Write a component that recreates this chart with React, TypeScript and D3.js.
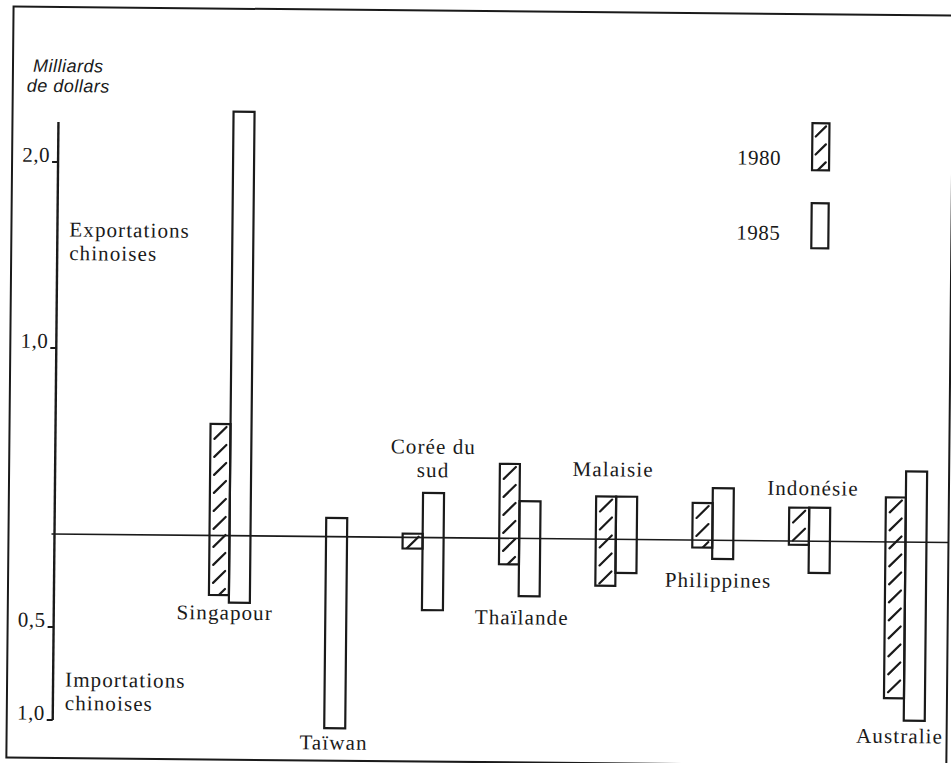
import React from 'react';
import * as d3 from 'd3';

// ---------- data (milliards de dollars) ----------
const countries = ['Singapour', 'Taïwan', 'Corée du sud', 'Thaïlande', 'Malaisie', 'Philippines', 'Indonésie', 'Australie'];
const exports1980: (number | null)[] = [0.60, null, 0.02, 0.40, 0.23, 0.20, 0.18, 0.24];
const imports1980: (number | null)[] = [0.32, null, 0.06, 0.14, 0.25, 0.04, 0.02, 0.84];
const exports1985 = [2.28, 0.10, 0.24, 0.20, 0.23, 0.28, 0.18, 0.38];
const imports1985 = [0.36, 1.03, 0.39, 0.31, 0.18, 0.10, 0.17, 0.96];
const years = ['1980', '1985'];
const upperTicks = [2, 1];
const lowerTicks = [0.5, 1];
const countryLabelLines = [['Singapour'], ['Taïwan'], ['Corée du', 'sud'], ['Thaïlande'], ['Malaisie'], ['Philippines'], ['Indonésie'], ['Australie']];
const unitTitle = ['Milliards', 'de dollars'];
const upperTitle = ['Exportations', 'chinoises'];
const lowerTitle = ['Importations', 'chinoises'];

// ---------- layout ----------
const W = 951;
const H = 763;
const Y0 = 538;
const K = 186;
const AXIS_X = 56;
const INK = '#1a1a1a';
const SERIF = '"Liberation Serif", "Times New Roman", serif';
const SANS = '"Liberation Sans", Arial, sans-serif';
const FS = 21;
const LS = 1.1;
const LINE = 23.5;
// label placement (center x, baseline y of first line) in chart coordinates
const labelLayout = [
  { x: 227, y: 622 },
  { x: 337, y: 751 },
  { x: 434, y: 454 },
  { x: 524, y: 624 },
  { x: 614, y: 475 },
  { x: 720, y: 585 },
  { x: 814, y: 492 },
  { x: 903, y: 739 },
];

function hatch(x0: number, x1: number, top: number, bottom: number) {
  const w = x1 - x0;
  const inset = Math.max(3, w * 0.2);
  const span = w - 2 * inset;
  const segs: { x1: number; y1: number; x2: number; y2: number }[] = [];
  for (let yk = top + 3; yk < bottom; yk += 18) {
    segs.push({ x1: x0 + inset, y1: yk + span, x2: x1 - inset, y2: yk });
  }
  return segs;
}

export default function App() {
  const y = d3.scaleLinear().domain([-1, 2]).range([Y0 + K, Y0 - 2 * K]);
  const x = d3.scalePoint<string>().domain(countries).range([231, 907]);
  const fmt = (v: number) => d3.format('.1f')(v).replace('.', ',');

  type Bar = { key: string; year: string; x0: number; x1: number; top: number; bottom: number };
  const bars: Bar[] = [];
  countries.forEach((c, i) => {
    const cx = x(c) as number;
    const e80 = exports1980[i];
    const i80 = imports1980[i];
    if (e80 != null && i80 != null) {
      bars.push({ key: `${i}-80`, year: years[0], x0: cx - 20, x1: cx, top: y(e80), bottom: y(-i80) });
    }
    bars.push({ key: `${i}-85`, year: years[1], x0: cx, x1: cx + 21, top: y(exports1985[i]), bottom: y(-imports1985[i]) });
  });

  const legend = [
    { year: years[0], box: { x0: 810, x1: 827, top: 120, bottom: 167 }, tx: 757, ty: 162 },
    { year: years[1], box: { x0: 810, x1: 827, top: 200, bottom: 245 }, tx: 757, ty: 237 },
  ];

  const renderBox = (k: string, b: { x0: number; x1: number; top: number; bottom: number }, hatched: boolean) => (
    <g key={k}>
      {hatched && (
        <>
          <clipPath id={`clip-${k}`}>
            <rect x={b.x0} y={b.top} width={b.x1 - b.x0} height={b.bottom - b.top} />
          </clipPath>
          <g clipPath={`url(#clip-${k})`}>
            {hatch(b.x0, b.x1, b.top, b.bottom).map((s, j) => (
              <line key={j} x1={s.x1} y1={s.y1} x2={s.x2} y2={s.y2} stroke={INK} strokeWidth={2.2} strokeLinecap="round" />
            ))}
          </g>
        </>
      )}
      <rect x={b.x0} y={b.top} width={b.x1 - b.x0} height={b.bottom - b.top} fill="none" stroke={INK} strokeWidth={2.2} />
    </g>
  );

  return (
    <svg width={W} height={H} style={{ position: 'absolute', left: 0, top: 0, display: 'block', background: '#fff' }}>
      <rect x={0} y={0} width={W} height={H} fill="#fff" />
      <g transform="rotate(0.55 475 380)">
        {/* frame */}
        <rect x={10} y={11} width={940} height={751} fill="none" stroke={INK} strokeWidth={2} />

        {/* unit title */}
        {unitTitle.map((t, i) => (
          <text key={t} x={i === 0 ? 30 : 24} y={76 + i * 20} fontFamily={SANS} fontStyle="italic" fontSize={18} letterSpacing={0.5} fill={INK}>{t}</text>
        ))}

        {/* axis */}
        <line x1={AXIS_X} x2={AXIS_X} y1={y(2.215)} y2={y(-1)} stroke={INK} strokeWidth={2.4} />
        {upperTicks.map(v => (
          <g key={`u${v}`}>
            <line x1={AXIS_X - 6} x2={AXIS_X} y1={y(v)} y2={y(v)} stroke={INK} strokeWidth={2} />
            <text x={AXIS_X - 8} y={y(v)} textAnchor="end" fontFamily={SERIF} fontSize={FS} letterSpacing={0.5} fill={INK}>{fmt(v)}</text>
          </g>
        ))}
        {lowerTicks.map(v => (
          <g key={`l${v}`}>
            <line x1={AXIS_X - 6} x2={AXIS_X} y1={y(-v)} y2={y(-v)} stroke={INK} strokeWidth={2} />
            <text x={AXIS_X - 8} y={y(-v)} textAnchor="end" fontFamily={SERIF} fontSize={FS} letterSpacing={0.5} fill={INK}>{fmt(v)}</text>
          </g>
        ))}
        {upperTitle.map((t, i) => (
          <text key={`ut${i}`} x={68} y={240.5 + i * LINE} fontFamily={SERIF} fontSize={FS} letterSpacing={LS} fill={INK}>{t}</text>
        ))}
        {lowerTitle.map((t, i) => (
          <text key={`lt${i}`} x={68} y={690.5 + i * LINE} fontFamily={SERIF} fontSize={FS} letterSpacing={LS} fill={INK}>{t}</text>
        ))}

        {/* bars */}
        {bars.map(b => renderBox(b.key, b, b.year === years[0]))}

        {/* baseline */}
        <line x1={AXIS_X - 3} x2={950} y1={y(0)} y2={y(0)} stroke={INK} strokeWidth={1.6} />

        {/* country labels */}
        {countries.map((c, i) => (
          <text key={c} textAnchor="middle" fontFamily={SERIF} fontSize={FS} letterSpacing={LS} fill={INK}>
            {countryLabelLines[i].map((line, j) => (
              <tspan key={j} x={labelLayout[i].x} y={labelLayout[i].y + j * LINE}>{line}</tspan>
            ))}
          </text>
        ))}

        {/* legend */}
        {legend.map(l => (
          <g key={l.year}>
            <text x={l.tx} y={l.ty} textAnchor="middle" fontFamily={SERIF} fontSize={FS} letterSpacing={0.5} fill={INK}>{l.year}</text>
            {renderBox(`leg${l.year}`, l.box, l.year === years[0])}
          </g>
        ))}
      </g>
    </svg>
  );
}
